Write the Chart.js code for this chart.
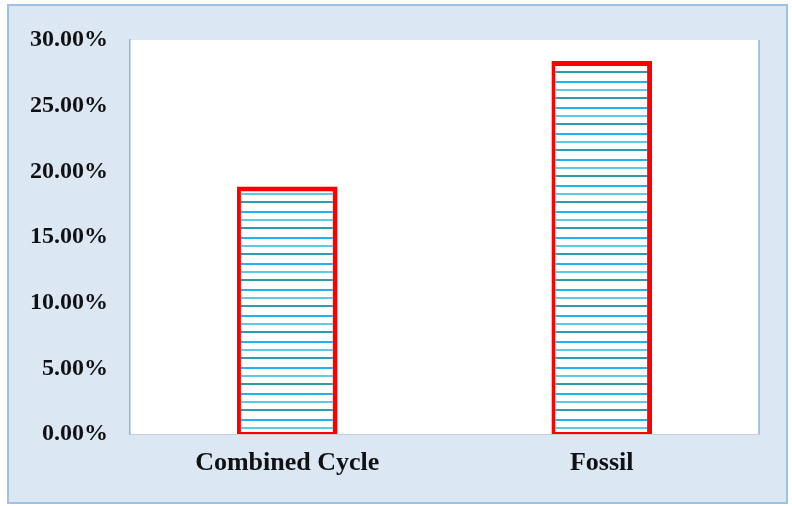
<!DOCTYPE html>
<html>
<head>
<meta charset="utf-8">
<script src="https://cdn.jsdelivr.net/npm/chart.js@4.4.1/dist/chart.umd.min.js"></script>
<style>
  html, body { margin: 0; padding: 0; background: #ffffff; }
  #wrap { width: 792px; height: 506px; position: relative; }
</style>
</head>
<body>
<div id="wrap"><canvas id="shareChart" width="792" height="506"></canvas></div>
<script>
const categories = ['Combined Cycle', 'Fossil'];
const shares = [18.85, 28.4];
const yTicks = [0, 5, 10, 15, 20, 25, 30];

// horizontal striped fill like the original
function stripes() {
  const c = document.createElement('canvas');
  c.width = 10; c.height = 26;
  const g = c.getContext('2d');
  g.fillStyle = '#ffffff';
  g.fillRect(0, 0, 10, 26);
  g.fillStyle = '#1fb4ee'; g.fillRect(0, 3, 10, 2);
  g.fillStyle = '#5cc9e6'; g.fillRect(0, 11, 10, 2);
  g.fillStyle = '#2b9bb3'; g.fillRect(0, 19, 10, 2);
  return g.createPattern(c, 'repeat');
}

const frame = {
  id: 'frame',
  beforeDraw(chart) {
    const ctx = chart.ctx;
    const a = chart.chartArea;
    ctx.save();
    ctx.fillStyle = '#dce7f4';
    ctx.fillRect(8, 5, 779, 498);
    ctx.strokeStyle = '#9cc3e6';
    ctx.lineWidth = 2;
    ctx.strokeRect(8, 5, 779, 498);
    ctx.fillStyle = '#ffffff';
    ctx.fillRect(a.left, a.top, a.right - a.left, a.bottom - a.top);
    ctx.restore();
  },
  afterDatasetsDraw(chart) {
    const ctx = chart.ctx;
    const a = chart.chartArea;
    ctx.save();
    ctx.strokeStyle = '#8fb4d9';
    ctx.lineWidth = 1.5;
    ctx.beginPath();
    ctx.moveTo(a.right, a.top);
    ctx.lineTo(a.right, a.bottom);
    ctx.stroke();
    ctx.restore();
  }
};

new Chart(document.getElementById('shareChart'), {
  type: 'bar',
  data: {
    labels: categories,
    datasets: [{
      data: shares,
      backgroundColor: stripes(),
      borderColor: '#ff0000',
      borderWidth: { top: 5, left: 4, right: 5, bottom: 2 },
      borderSkipped: false,
      barPercentage: 0.64,
      categoryPercentage: 0.5
    }]
  },
  options: {
    responsive: false,
    animation: false,
    layout: { padding: { left: 0, right: 33, top: 40, bottom: 0 } },
    plugins: { legend: { display: false }, tooltip: { enabled: false } },
    scales: {
      x: {
        grid: { display: false, drawTicks: false },
        border: { color: '#c9cfd6', width: 1 },
        ticks: {
          color: '#111111',
          padding: 14,
          font: { family: '"Liberation Serif", "Times New Roman", serif', size: 26, weight: 'bold' }
        },
        afterFit(scale) { scale.height = 72; }
      },
      y: {
        min: 0,
        max: 30,
        grid: { display: false, drawTicks: false },
        border: { color: '#8fb4d9', width: 1.5 },
        afterBuildTicks(scale) { scale.ticks = yTicks.map(v => ({ value: v })); },
        ticks: {
          color: '#111111',
          padding: 22,
          font: { family: '"Liberation Serif", "Times New Roman", serif', size: 24, weight: 'bold' },
          callback: v => v.toFixed(2) + '%'
        },
        afterFit(scale) { scale.width = 130; }
      }
    }
  },
  plugins: [frame]
});
</script>
</body>
</html>
